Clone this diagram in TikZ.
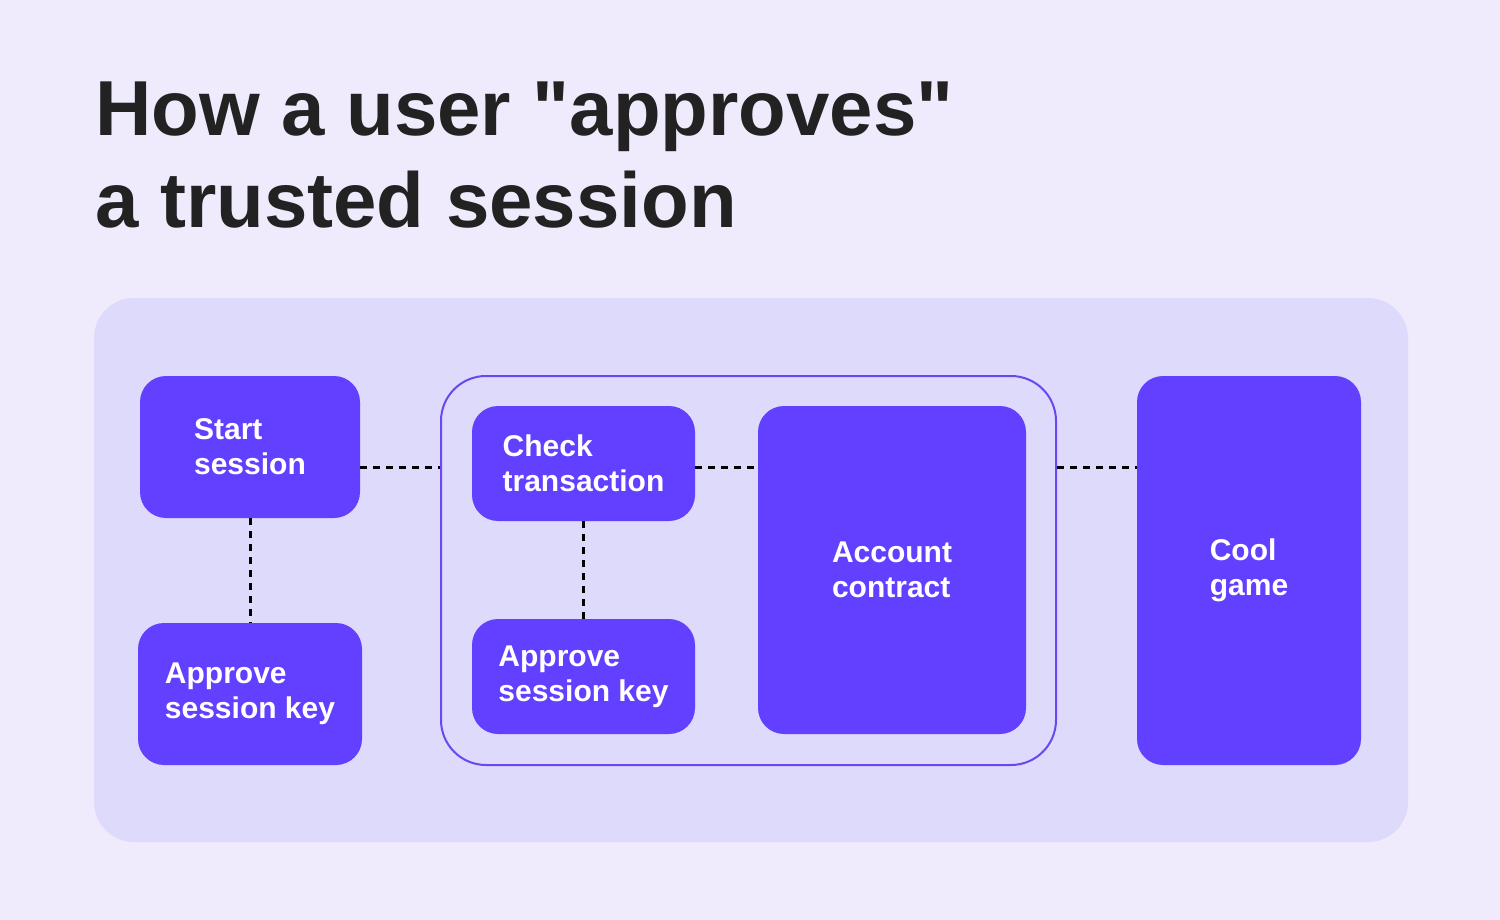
\documentclass[tikz,border=0pt]{standalone}
\usepackage{fontspec}
\setmainfont{Liberation Sans}
\usetikzlibrary{positioning}
\definecolor{bgcol}{HTML}{EFEBFD}
\definecolor{panelcol}{HTML}{DEDAFB}
\definecolor{boxcol}{HTML}{6340FF}
\definecolor{framecol}{HTML}{6A48F0}
\definecolor{titlecol}{HTML}{222222}
\begin{document}
\begin{tikzpicture}[x=1pt,y=-1pt,
        step box/.style={rectangle,rounded corners=26pt,fill=boxcol,text=white,
          font=\fontsize{30}{35}\selectfont\bfseries,align=left,inner sep=0pt},
        link/.style={dash pattern=on 7pt off 6pt,line width=3pt,black}]
        \fill[bgcol] (0,0) rectangle (1500,920);
        \useasboundingbox (0,0) rectangle (1500,920);
        \fill[panelcol,rounded corners=40pt] (94,298) rectangle (1408,842);
        \node[anchor=base west,text=titlecol,font=\fontsize{78}{92}\selectfont\bfseries,align=left,inner sep=0pt] (title) at (95,228) {How a user \textquotedbl approves\textquotedbl\\a trusted session};
        \node[step box,minimum width=220pt,minimum height=142pt] (start) at (250,447) {Start\\session};
        \node[step box,minimum width=224pt,minimum height=142pt] (approve1) at (250,694) {Approve\\session key};
        \node[draw=framecol,line width=2pt,rounded corners=45pt,minimum width=615pt,minimum height=389pt,inner sep=0pt] (frame) at (748.5,570.5) {};
        \node[step box,minimum width=223pt,minimum height=115pt] (check) at (583.5,463.5) {Check\\transaction};
        \node[step box,minimum width=223pt,minimum height=115pt] (approve2) at (583.5,676.5) {Approve\\session key};
        \node[step box,minimum width=268pt,minimum height=328pt] (account) at (892,570) {Account\\contract};
        \node[step box,minimum width=224pt,minimum height=389pt] (game) at (1249,570.5) {Cool\\game};
        \draw[link] (start.east |- 0,467) -- (frame.west |- 0,467);
        \draw[link] (check.east |- 0,467) -- (account.west |- 0,467);
        \draw[link] (frame.east |- 0,467) -- (game.west |- 0,467);
        \draw[link] (start) -- (approve1);
        \draw[link] (check) -- (approve2);
\end{tikzpicture}
\end{document}
